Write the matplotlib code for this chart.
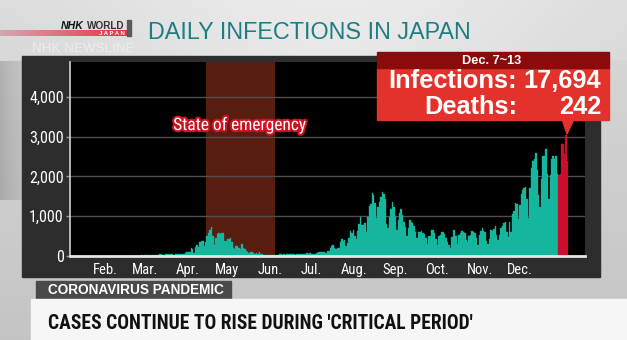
"""
Daily infections in Japan - NHK World style frame
"""

import numpy as np
import pandas as pd
import matplotlib
matplotlib.use('Agg')
import matplotlib.pyplot as plt
from matplotlib import font_manager
from matplotlib.patches import Rectangle, Polygon
import matplotlib.patheffects as pe

# Daily new cases, Jan 16 - Dec 13 2020
jan = [1, 0, 0, 0, 0, 0, 0, 1, 0, 1, 1, 0, 3, 1, 2, 3]
feb = [3, 0, 0, 1, 0, 1, 0, 0, 0, 0, 0, 1, 4, 8, 8, 6, 7, 6, 9, 12,
       12, 12, 14, 5, 15, 20, 22, 22, 12]
mar = [15, 16, 15, 33, 36, 56, 46, 30, 26, 59, 52, 55, 41, 60, 38, 15,
       44, 39, 39, 53, 53, 42, 38, 65, 93, 96, 112, 194, 173, 87, 225]
apr = [266, 235, 353, 367, 383, 253, 351, 511, 576, 644, 720, 507, 283,
       458, 549, 584, 560, 583, 568, 373, 383, 437, 435, 440, 350, 200,
       187, 261, 251, 192]
may = [165, 295, 206, 174, 123, 96, 86, 94, 102, 64, 59, 86, 55, 99, 48,
       44, 29, 31, 30, 32, 26, 31, 26, 14, 21, 27, 36, 60, 45, 35, 42]
jun = [36, 51, 46, 44, 38, 45, 45, 15, 40, 38, 41, 38, 49, 62, 41, 72,
       47, 70, 58, 40, 56, 53, 66, 95, 98, 105, 92, 111, 85, 126]
jul = [130, 195, 250, 274, 209, 166, 207, 208, 355, 429, 386, 408, 263,
       333, 457, 623, 590, 663, 509, 419, 631, 795, 981, 770, 779, 838,
       598, 981, 1264, 1301, 1580]
aug = [1536, 1331, 963, 1236, 1357, 1485, 1605, 1568, 1440, 815, 700,
       985, 1176, 1360, 1233, 1007, 649, 906, 1072, 1179, 1034, 855, 741,
       496, 691, 892, 855, 823, 745, 592, 440]
sep = [597, 592, 630, 580, 550, 447, 307, 509, 499, 650, 641, 579, 439,
       269, 501, 520, 595, 599, 552, 445, 348, 276, 197, 477, 643, 646,
       495, 302, 518, 574]
oct_ = [627, 597, 571, 409, 349, 495, 530, 618, 600, 581, 459, 268, 524,
        626, 707, 625, 604, 387, 314, 427, 646, 627, 689, 750, 538, 401,
        531, 712, 756, 824, 866]
nov = [613, 487, 858, 612, 1043, 1140, 1330, 1302, 926, 1278, 1547, 1661,
       1704, 1737, 1439, 950, 1697, 2201, 2388, 2425, 2596, 2168, 1520,
       1229, 1946, 2505, 2506, 2684, 2067, 1434]
dec = [2031, 2428, 2511, 2437, 2508, 2054]
dec_week = [2025, 2053, 2806, 2810, 2560, 3041, 2399]   # Dec 7~13, sum 17,694

month_labels = ['Feb.', 'Mar.', 'Apr.', 'May', 'Jun.', 'Jul.', 'Aug.',
                'Sep.', 'Oct.', 'Nov.', 'Dec.']
month_pos = [27.9, 54.8, 84.7, 111.7, 141.4, 169.8, 199.5, 227.8, 256.8,
             286.5, 314.2]
y_ticks = [0, 1000, 2000, 3000, 4000]

week_infections = 17694
week_deaths = 242

# Colors
TEAL = '#14b79e'
HIGHLIGHT = '#c8102e'
EMERGENCY = '#571e10'
PANEL = '#2d2d2d'
GRID = '#4f4f4f'
TITLE = '#1e7d83'
CALLOUT = '#e2322b'
CALLOUT_TOP = '#8a0b0b'

names = {f.name for f in font_manager.fontManager.ttflist}
SANS = 'Liberation Sans' if 'Liberation Sans' in names else 'DejaVu Sans'
NARROW = next(n for n in ['Liberation Sans Narrow', 'Roboto Condensed',
                          'DejaVu Sans Condensed', SANS] if n in names)

values = jan + feb + mar + apr + may + jun + jul + aug + sep + oct_ + nov + dec + dec_week
dates = pd.date_range('2020-01-16', periods=len(values), freq='D')
day = np.asarray(dates.dayofyear) - 1
colors = [HIGHLIGHT if d >= pd.Timestamp('2020-12-07') else TEAL for d in dates]

W, H = 627, 340
fig = plt.figure(figsize=(W / 100, H / 100), dpi=100)

# ---- background frame, in pixel coordinates ----
bg = fig.add_axes([0, 0, 1, 1], zorder=0)
bg.set_xlim(0, W)
bg.set_ylim(H, 0)
bg.axis('off')
yy, xx = np.mgrid[0:H, 0:W]
shade = 0.85 - 0.08 * (yy / H) + 0.07 * np.exp(-((xx - 330) / 260.0) ** 2) * (yy < 60)
shade -= 0.14 * np.exp(-xx / 30.0) * ((yy > 60) & (yy < 200))
shade = np.clip(shade, 0, 1)
bg.imshow(np.dstack([shade] * 3), extent=(0, W, H, 0), aspect='auto', zorder=0)

# NHK WORLD logo
bar = np.linspace(0, 1, 200)[None, :]
red_grad = np.dstack([0.82 + 0.10 * bar, 0.66 - 0.46 * bar, 0.70 - 0.44 * bar])
bg.imshow(red_grad, extent=(0, 127, 36, 30.5), aspect='auto', zorder=1)
bg.add_patch(Rectangle((127, 20), 4, 16, color='#5a5a5a', zorder=1))
bg.text(61, 29, 'NHK', fontsize=7.6, fontweight='bold', fontstyle='italic',
        color='#111111', family=SANS, va='baseline', zorder=2)
bg.text(87, 29, 'WORLD', fontsize=7.2, fontweight='bold', color='#333333',
        family=SANS, va='baseline', zorder=2)
bg.text(125, 35, 'J A P A N', fontsize=4.3, fontweight='bold', color='white',
        family=SANS, ha='right', va='baseline', zorder=2)
bg.text(32, 52, 'NHK NEWSLINE', fontsize=9.6, color='#ededed', family=SANS,
        va='baseline', zorder=2)

# Title
bg.text(148, 39.3, 'DAILY INFECTIONS IN JAPAN', fontsize=16.8, color=TITLE,
        family=SANS, va='baseline', zorder=2)

# Dark chart panel
bg.add_patch(Rectangle((22, 56), 578, 221, color=PANEL, zorder=1))

# Lower thirds
bg.add_patch(Rectangle((36, 281), 195, 18, color='#4a4a4a', zorder=1))
bg.text(48, 290.5, 'CORONAVIRUS PANDEMIC', fontsize=9.8, fontweight='bold',
        color='white', family=SANS, va='center', zorder=2)
bg.add_patch(Rectangle((31, 299), W - 31, H - 299, color='#f6f6f6', zorder=1))
headline = bg.text(47.7, 329.3, "CASES CONTINUE TO RISE DURING 'CRITICAL PERIOD'",
                   fontsize=16.5, fontweight='bold', color='#111111',
                   family=NARROW, va='baseline', zorder=2)

# ---- chart ----
ax = fig.add_axes([70 / W, (H - 256) / H, 515 / W, 194 / H], zorder=2)
ax.set_facecolor('black')
ax.bar(day, values, width=1.0, color=colors, edgecolor=colors, linewidth=0.25,
       zorder=2)
ax.axvspan(97, 144.5, color=EMERGENCY, linewidth=0, zorder=0.2)
ax.text(120.7, 3290, 'State of emergency', fontsize=12.5, color='white',
        family=NARROW, ha='center', va='center', zorder=3,
        path_effects=[pe.withStroke(linewidth=3, foreground='#cc1420')])

ax.set_xlim(3.2, 359)
ax.set_ylim(0, 4874)
ax.set_yticks(y_ticks)
ax.set_yticklabels([f'{v:,}' for v in y_ticks])
ax.set_xticks(month_pos)
ax.set_xticklabels(month_labels)
ax.set_axisbelow(True)
ax.yaxis.grid(True, color=GRID, linewidth=1)
ax.tick_params(axis='y', length=3, width=1, color='#9a9a9a', pad=1.5,
               labelsize=11.5, labelcolor='white')
ax.tick_params(axis='x', length=0, pad=5, labelsize=10.5, labelcolor='white')
for lbl in ax.get_xticklabels() + ax.get_yticklabels():
    lbl.set_family(NARROW)
for side in ['top', 'right']:
    ax.spines[side].set_visible(False)
ax.spines['left'].set_color('#d0d0d0')
ax.spines['left'].set_linewidth(1.2)
ax.spines['bottom'].set_color('#e6e6e6')
ax.spines['bottom'].set_linewidth(2)

# ---- callout, drawn over the chart ----
top = fig.add_axes([0, 0, 1, 1], zorder=5)
top.set_xlim(0, W)
top.set_ylim(H, 0)
top.axis('off')
top.patch.set_alpha(0)
top.add_patch(Rectangle((377, 68.3), 232, 51.7, color=CALLOUT))
top.add_patch(Rectangle((377, 52.3), 232, 16, color=CALLOUT_TOP))
top.add_patch(Polygon([(562, 119), (574, 119), (567, 134)], closed=True,
                      color=CALLOUT))
top.text(491.5, 60.8, 'Dec. 7~13', fontsize=9.2, fontweight='bold',
         color='white', family=SANS, ha='center', va='center')
top.text(517, 88.5, 'Infections:', fontsize=18.3, fontweight='bold',
         color='white', family=SANS, ha='right', va='baseline')
top.text(601, 88.5, f'{week_infections:,}', fontsize=18.3, fontweight='bold',
         color='white', family=SANS, ha='right', va='baseline')
top.text(517, 113.5, 'Deaths:', fontsize=18.3, fontweight='bold',
         color='white', family=SANS, ha='right', va='baseline')
top.text(601, 113.5, f'{week_deaths}', fontsize=18.3, fontweight='bold',
         color='white', family=SANS, ha='right', va='baseline')

# squeeze the headline to the width it has on screen
renderer = fig.canvas.get_renderer()
w = headline.get_window_extent(renderer).width
headline.set_fontsize(min(16.5, headline.get_fontsize() * 425 / w))

fig.savefig('out.png', dpi=100)
plt.close(fig)
